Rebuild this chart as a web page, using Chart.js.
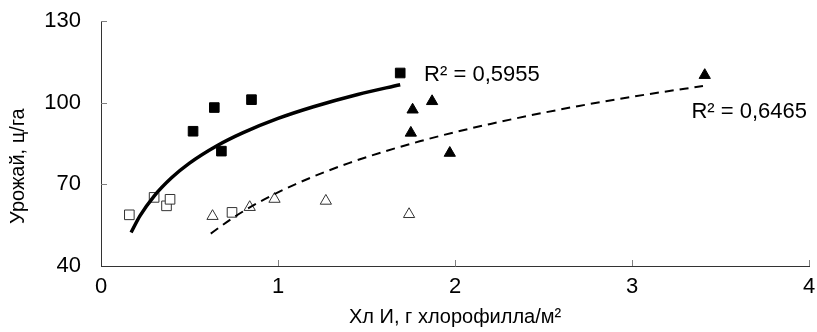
<!DOCTYPE html>
<html><head><meta charset="utf-8">
<script src="https://cdn.jsdelivr.net/npm/chart.js@4"></script>
<style>html,body{margin:0;padding:0;background:#fff}</style>
</head><body>
<canvas id="c" width="817" height="332"></canvas>
<script>
const xTicks = [0, 1, 2, 3, 4];
const yTicks = [40, 70, 100, 130];
const openSqX = [0.16, 0.30, 0.37, 0.39, 0.74];
const openSqY = [58.8, 65.2, 62.1, 64.5, 59.7];
const fillSqX = [0.52, 0.64, 0.68, 0.85, 1.69];
const fillSqY = [89.5, 98.2, 82.2, 101.1, 110.9];
const openTriX = [0.63, 0.84, 0.98, 1.27, 1.74];
const openTriY = [58.3, 61.6, 64.6, 63.9, 59.0];
const fillTriX = [1.75, 1.76, 1.87, 1.97, 3.41];
const fillTriY = [88.9, 97.4, 100.5, 81.5, 110.1];
const trend1X = [0.17, 0.22, 0.30, 0.40, 0.50, 0.65, 0.80, 1.00, 1.20, 1.45, 1.69];
const trend1Y = [52.3, 58.4, 65.7, 72.5, 77.8, 84.0, 88.9, 94.2, 98.5, 103.0, 106.6];
const trend2X = [0.62, 0.75, 0.90, 1.10, 1.40, 1.80, 2.20, 2.70, 3.10, 3.40];
const trend2Y = [51.9, 57.9, 63.7, 70.1, 77.8, 85.8, 92.2, 98.8, 103.2, 106.1];
const r2Labels = ['R² = 0,5955', 'R² = 0,6465'];
const xTitle = 'Хл И, г хлорофилла/м²';
const yTitle = 'Урожай, ц/га';

const pts = (xs, ys) => xs.map((v, i) => ({x: v, y: ys[i]}));
const FONT = '"Liberation Sans", Arial, sans-serif';

const decor = {
  id: 'decor',
  afterDraw(chart) {
    const {ctx, scales: {x, y}} = chart;
    ctx.save();
    ctx.strokeStyle = '#808080';
    ctx.lineWidth = 1;
    yTicks.forEach(v => {
      if (v === yTicks[0]) return;
      const py = Math.round(y.getPixelForValue(v)) + 0.5;
      ctx.beginPath(); ctx.moveTo(x.left, py); ctx.lineTo(x.left + 6, py); ctx.stroke();
    });
    xTicks.forEach(v => {
      if (v === xTicks[0]) return;
      const px = Math.round(x.getPixelForValue(v)) + 0.5;
      ctx.beginPath(); ctx.moveTo(px, y.bottom); ctx.lineTo(px, y.bottom - 6); ctx.stroke();
    });
    ctx.fillStyle = '#000';
    ctx.font = '22px ' + FONT;
    ctx.textBaseline = 'middle';
    ctx.textAlign = 'left';
    ctx.fillText(r2Labels[0], x.getPixelForValue(1.825), y.getPixelForValue(110.2));
    ctx.fillText(r2Labels[1], x.getPixelForValue(3.335), y.getPixelForValue(96.6));
    ctx.font = '20px ' + FONT;
    ctx.translate(18, y.getPixelForValue(76.7));
    ctx.rotate(-Math.PI / 2);
    ctx.textAlign = 'center';
    ctx.fillText(yTitle, 0, 0);
    ctx.restore();
  }
};

new Chart(document.getElementById('c'), {
  type: 'scatter',
  data: {
    datasets: [
      {data: pts(trend1X, trend1Y), showLine: true, borderColor: '#000', borderWidth: 3.5, pointRadius: 0, cubicInterpolationMode: 'monotone', fill: false, order: 0},
      {data: pts(trend2X, trend2Y), showLine: true, borderColor: '#000', borderWidth: 2, borderDash: [9, 6], pointRadius: 0, cubicInterpolationMode: 'monotone', fill: false, order: 0},
      {data: pts(openSqX, openSqY), pointStyle: 'rect', pointRadius: 6.8, backgroundColor: '#fff', borderColor: '#333', borderWidth: 1, order: 1},
      {data: pts(fillSqX, fillSqY), pointStyle: 'rect', pointRadius: 6.8, backgroundColor: '#000', borderColor: '#000', borderWidth: 1, order: 1},
      {data: pts(openTriX, openTriY), pointStyle: 'triangle', pointRadius: 6.5, backgroundColor: '#fff', borderColor: '#333', borderWidth: 1, order: 1},
      {data: pts(fillTriX, fillTriY), pointStyle: 'triangle', pointRadius: 6.5, backgroundColor: '#000', borderColor: '#000', borderWidth: 1, order: 1}
    ]
  },
  options: {
    responsive: false,
    animation: false,
    events: [],
    layout: {padding: {top: 21, right: 6, left: 0, bottom: 0}},
    plugins: {legend: {display: false}, tooltip: {enabled: false}},
    scales: {
      x: {
        type: 'linear', min: 0, max: 4,
        afterBuildTicks: s => { s.ticks = xTicks.map(v => ({value: v})); },
        afterFit: s => { s.height = 66; s.paddingLeft = 0; s.paddingRight = 0; },
        grid: {display: false, drawTicks: false},
        border: {display: true, color: '#333', width: 1},
        ticks: {padding: 8, color: '#000', font: {family: FONT, size: 22}},
        title: {display: true, text: xTitle, color: '#000', font: {family: FONT, size: 20}, padding: {top: 0, bottom: 3}}
      },
      y: {
        type: 'linear', min: 40, max: 130,
        afterBuildTicks: s => { s.ticks = yTicks.map(v => ({value: v})); },
        afterFit: s => { s.width = 101; s.paddingTop = 0; s.paddingBottom = 0; },
        grid: {display: false, drawTicks: false},
        border: {display: true, color: '#333', width: 1},
        ticks: {padding: 20, color: '#000', font: {family: FONT, size: 22}}
      }
    }
  },
  plugins: [decor]
});
</script>
</body></html>
